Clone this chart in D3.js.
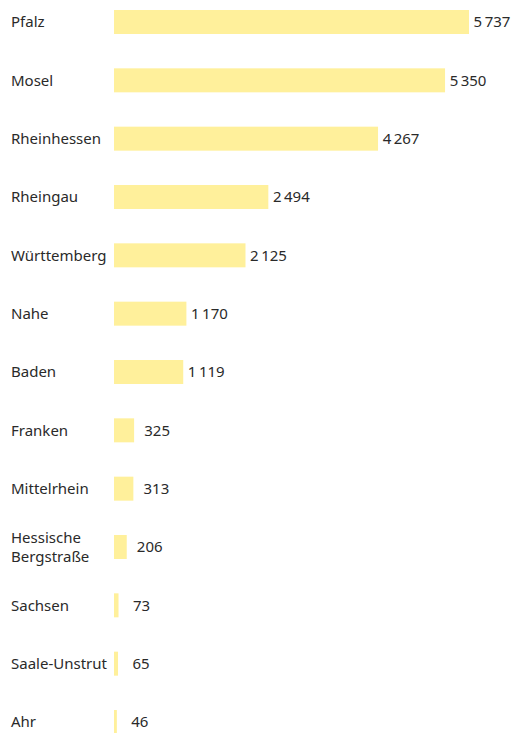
<!DOCTYPE html>
<html>
<head>
<meta charset="utf-8">
<script src="https://cdn.jsdelivr.net/npm/d3@7"></script>
<style>
  body { margin: 0; background: #fff; }
  text { font-family: "Noto Sans", "Open Sans", sans-serif; font-size: 15px; fill: #2a2a2a; }
  text.value { font-size: 15px; }
</style>
</head>
<body>
<div id="chart"></div>
<script>
const regions = ["Pfalz", "Mosel", "Rheinhessen", "Rheingau", "Württemberg", "Nahe", "Baden",
    "Franken", "Mittelrhein", "Hessische Bergstraße", "Sachsen", "Saale-Unstrut", "Ahr"];
const hectares = [5737, 5350, 4267, 2494, 2125, 1170, 1119, 325, 313, 206, 73, 65, 46];

const width = 515;
const height = 733;
const barHeight = 24;

const svg = d3.select("#chart")
    .append("svg")
    .attr("width", width)
    .attr("height", height);

const x = d3.scaleLinear()
    .domain([0, d3.max(hectares)])
    .range([114, 469]);
const y = d3.scalePoint()
    .domain(regions)
    .range([22, 722]);

const fmt = (v) => d3.format(",")(v).replace(/,/g, "\u2009");
const rows = regions.map((name, i) => ({ name: name, value: hectares[i] }));

const row = svg.selectAll("g.row")
    .data(rows)
    .enter().append("g")
    .attr("class", "row");

row.append("rect")
    .attr("x", x(0))
    .attr("y", (d) => y(d.name) - barHeight / 2)
    .attr("width", (d) => x(d.value) - x(0))
    .attr("height", barHeight)
    .attr("fill", "#fff09b");

// labels, two lines where needed
row.append("text")
    .attr("x", 11)
    .attr("y", (d) => y(d.name))
    .each(function (d) {
        const parts = d.name === "Hessische Bergstraße" ? ["Hessische", "Bergstraße"] : [d.name];
        const t = d3.select(this);
        parts.forEach((p, j) => {
            t.append("tspan")
                .attr("x", 11)
                .attr("dy", j === 0 ? (0.35 - (parts.length - 1) * 0.62) + "em" : "1.24em")
                .text(p);
        });
    });

row.append("text")
    .attr("class", "value")
    .attr("x", (d) => x(d.value) + 23)
    .attr("y", (d) => y(d.name))
    .attr("dy", "0.35em")
    .attr("text-anchor", "middle")
    .text((d) => fmt(d.value));
</script>
</body>
</html>
